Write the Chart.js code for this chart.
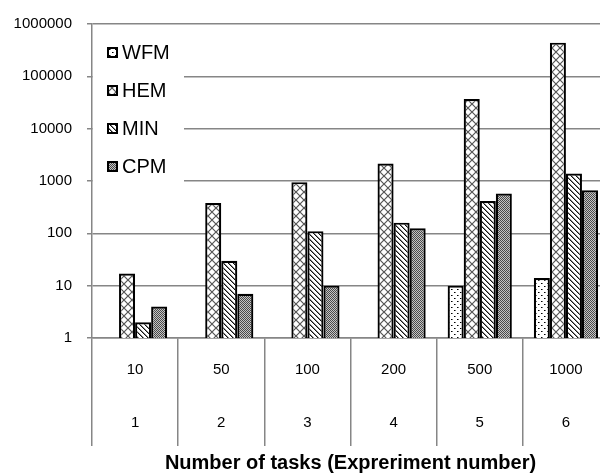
<!DOCTYPE html>
<html>
<head>
<meta charset="utf-8">
<script src="https://cdn.jsdelivr.net/npm/chart.js@4/dist/chart.umd.min.js"></script>
<style>
    html, body { margin: 0; padding: 0; background: #fff; overflow: hidden; }
    #wrap { width: 612px; height: 473px; }
</style>
</head>
<body>
<div id="wrap"><canvas id="chart" width="612" height="473"></canvas></div>
<script>
// Values
const taskCounts = ['10', '50', '100', '200', '500', '1000'];
const experimentNumbers = ['1', '2', '3', '4', '5', '6'];
const seriesNames = ['WFM', 'HEM', 'MIN', 'CPM'];
const wfmValues = [null, null, null, null, 10, 14];
const hemValues = [17, 380, 950, 2150, 37000, 440000];
const minValues = [2, 30, 110, 160, 415, 1390];
const cpmValues = [4, 7, 10, 125, 575, 665];
const yTickValues = [1, 10, 100, 1000, 10000, 100000, 1000000];

const GRID = '#868686';
const FONT = "'Liberation Sans', Arial, sans-serif";

// Fill patterns
function makePattern(size, paint) {
    const c = document.createElement('canvas');
    c.width = size;
    c.height = size;
    const g = c.getContext('2d');
    g.fillStyle = '#fff';
    g.fillRect(0, 0, size, size);
    paint(g);
    return document.getElementById('chart').getContext('2d').createPattern(c, 'repeat');
}

const dotsPattern = makePattern(6, g => {
    g.fillStyle = '#000';
    g.fillRect(1, 1, 1, 1);
    g.fillRect(4, 4, 1, 1);
    g.fillStyle = '#777';
    g.fillRect(2, 1, 1, 1);
    g.fillRect(5, 4, 1, 1);
});

const crossPattern = makePattern(8, g => {
    g.strokeStyle = '#555';
    g.lineWidth = 1.2;
    g.beginPath();
    g.moveTo(0, 0); g.lineTo(8, 8);
    g.moveTo(8, 0); g.lineTo(0, 8);
    g.stroke();
});

const diagPattern = makePattern(5, g => {
    g.fillStyle = '#111';
    for (let i = 0; i < 5; i++) {
        g.fillRect(i, i, 1, 1);
    }
    g.fillStyle = '#888';
    for (let i = 0; i < 5; i++) {
        g.fillRect((i + 1) % 5, i, 1, 1);
    }
});

const checkPattern = makePattern(2, g => {
    g.fillStyle = '#c4c4c4';
    g.fillRect(0, 0, 2, 2);
    g.fillStyle = '#4a4a4a';
    g.fillRect(0, 0, 1, 1);
    g.fillRect(1, 1, 1, 1);
});

const patterns = [dotsPattern, crossPattern, diagPattern, checkPattern];
const seriesValues = [wfmValues, hemValues, minValues, cpmValues];

// Legend sitting inside the plot, with a white box over the grid
const insideLegend = {
    id: 'insideLegend',
    beforeDatasetsDraw(chart) {
        const ctx = chart.ctx;
        const left = chart.chartArea.left + 1;
        ctx.save();
        ctx.fillStyle = '#fff';
        ctx.fillRect(left, 28, 91, 164);
        ctx.font = '20px ' + FONT;
        ctx.textBaseline = 'middle';
        seriesNames.forEach((name, i) => {
            const cy = 52 + i * 38;
            ctx.fillStyle = patterns[i];
            ctx.fillRect(108, cy - 4, 9, 9);
            ctx.strokeStyle = '#000';
            ctx.lineWidth = 2;
            ctx.strokeRect(108, cy - 4, 9, 9);
            ctx.fillStyle = '#000';
            ctx.fillText(name, 122, cy + 1);
        });
        ctx.restore();
    }
};

const chart = new Chart(document.getElementById('chart'), {
    type: 'bar',
    data: {
        labels: taskCounts.map((t, i) => [t, experimentNumbers[i]]),
        datasets: seriesNames.map((name, i) => ({
            label: name,
            data: seriesValues[i],
            backgroundColor: patterns[i],
            borderColor: '#000',
            borderWidth: 2.2,
            categoryPercentage: 0.745,
            barPercentage: 1
        }))
    },
    options: {
        responsive: false,
        animation: false,
        layout: { padding: { top: 22, right: 3, left: 0, bottom: 0 } },
        plugins: {
            legend: { display: false },
            tooltip: { enabled: false }
        },
        scales: {
            x: {
                type: 'category',
                offset: true,
                border: { color: GRID, width: 1.5 },
                grid: {
                    offset: true,
                    drawOnChartArea: false,
                    color: GRID,
                    lineWidth: 1.5,
                    tickLength: 108
                },
                afterFit: scale => {
                    scale.height = 135;
                },
                ticks: {
                    color: '#000',
                    font: { family: FONT, size: 15, lineHeight: 53 / 15 },
                    padding: -103,
                    maxRotation: 0
                },
                title: {
                    display: true,
                    text: 'Number of tasks (Expreriment number)',
                    color: '#000',
                    font: { family: FONT, size: 20, weight: 'bold' },
                    padding: { top: 0, bottom: -2 }
                }
            },
            y: {
                type: 'logarithmic',
                min: 1,
                max: 1000000,
                border: { color: GRID, width: 1.5 },
                grid: { color: GRID, lineWidth: 1.5, tickLength: 5 },
                afterBuildTicks: scale => {
                    scale.ticks = yTickValues.map(v => ({ value: v }));
                },
                afterFit: scale => {
                    scale.width = 92;
                },
                ticks: {
                    color: '#000',
                    font: { family: FONT, size: 15 },
                    padding: 15,
                    callback: v => String(v)
                }
            }
        }
    },
    plugins: [insideLegend]
});
</script>
</body>
</html>
